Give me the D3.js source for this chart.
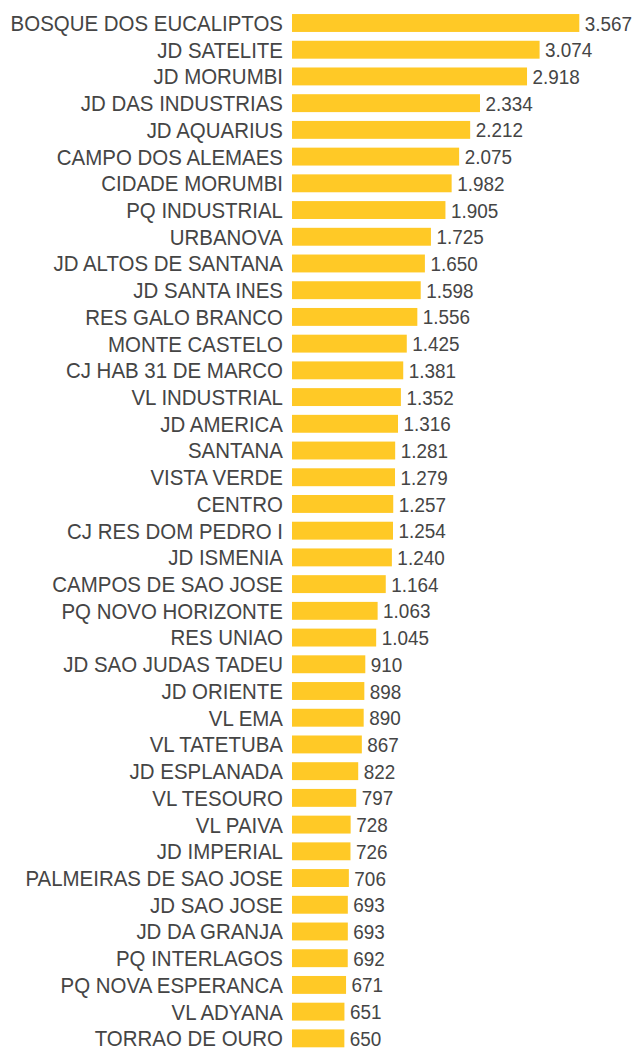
<!DOCTYPE html>
<html>
<head>
<meta charset="utf-8">
<script src="https://cdn.jsdelivr.net/npm/d3@7"></script>
<style>
  body { margin: 0; background: #fff; }
  text { font-family: "Liberation Sans", Arial, sans-serif; }
</style>
</head>
<body>
<div id="chart-area"></div>
<script>
var bairros = [
  "BOSQUE DOS EUCALIPTOS", "JD SATELITE", "JD MORUMBI", "JD DAS INDUSTRIAS",
  "JD AQUARIUS", "CAMPO DOS ALEMAES", "CIDADE MORUMBI", "PQ INDUSTRIAL",
  "URBANOVA", "JD ALTOS DE SANTANA", "JD SANTA INES", "RES GALO BRANCO",
  "MONTE CASTELO", "CJ HAB 31 DE MARCO", "VL INDUSTRIAL", "JD AMERICA",
  "SANTANA", "VISTA VERDE", "CENTRO", "CJ RES DOM PEDRO I", "JD ISMENIA",
  "CAMPOS DE SAO JOSE", "PQ NOVO HORIZONTE", "RES UNIAO", "JD SAO JUDAS TADEU",
  "JD ORIENTE", "VL EMA", "VL TATETUBA", "JD ESPLANADA", "VL TESOURO",
  "VL PAIVA", "JD IMPERIAL", "PALMEIRAS DE SAO JOSE", "JD SAO JOSE",
  "JD DA GRANJA", "PQ INTERLAGOS", "PQ NOVA ESPERANCA", "VL ADYANA", "TORRAO DE OURO"
];
var valores = [
  3567, 3074, 2918, 2334, 2212, 2075, 1982, 1905, 1725, 1650, 1598, 1556,
  1425, 1381, 1352, 1316, 1281, 1279, 1257, 1254, 1240, 1164, 1063, 1045,
  910, 898, 890, 867, 822, 797, 728, 726, 706, 693, 693, 692, 671, 651, 650
];

var data = bairros.map(function (b, i) { return { nome: b, valor: valores[i] }; });

var width = 637;
var height = 1048;
var barLeft = 292;

var svg = d3.select('#chart-area')
    .append('svg')
        .attr('width', width)
        .attr('height', height);

var x = d3.scaleLinear()
    .domain([0, 3567])
    .range([barLeft, 579.3]);

var step = 26.72;
var pad = 0.33;
var y = d3.scaleBand()
    .domain(bairros)
    .range([23 - step / 2, 23 - step / 2 + step * bairros.length])
    .paddingInner(pad)
    .paddingOuter(pad / 2);

// formato brasileiro: 3.567
var br = d3.formatLocale({ decimal: ",", thousands: ".", grouping: [3], currency: ["R$", ""] });
var fmt = br.format(",d");

var rows = svg.selectAll('g.row')
    .data(data)
    .enter()
    .append('g')
        .attr('class', 'row');

rows.append('rect')
    .attr('x', x(0))
    .attr('y', function (d) { return y(d.nome); })
    .attr('width', function (d) { return x(d.valor) - x(0); })
    .attr('height', y.bandwidth())
    .attr('fill', '#FFC926');

// texto um pouco estreito, como no original
rows.append('text')
    .attr('transform', function (d) {
        return "translate(" + (barLeft - 9) + "," + (y(d.nome) + y.bandwidth() / 2) + ") scale(0.93,1)";
    })
    .attr('dy', '0.36em')
    .attr('text-anchor', 'end')
    .attr('font-size', '22px')
    .attr('fill', '#454545')
    .text(function (d) { return d.nome; });

rows.append('text')
    .attr('transform', function (d) {
        return "translate(" + (x(d.valor) + 5.5) + "," + (y(d.nome) + y.bandwidth() / 2) + ") scale(0.9,1)";
    })
    .attr('dy', '0.36em')
    .attr('font-size', '21px')
    .attr('fill', '#454545')
    .text(function (d) { return fmt(d.valor); });
</script>
</body>
</html>
